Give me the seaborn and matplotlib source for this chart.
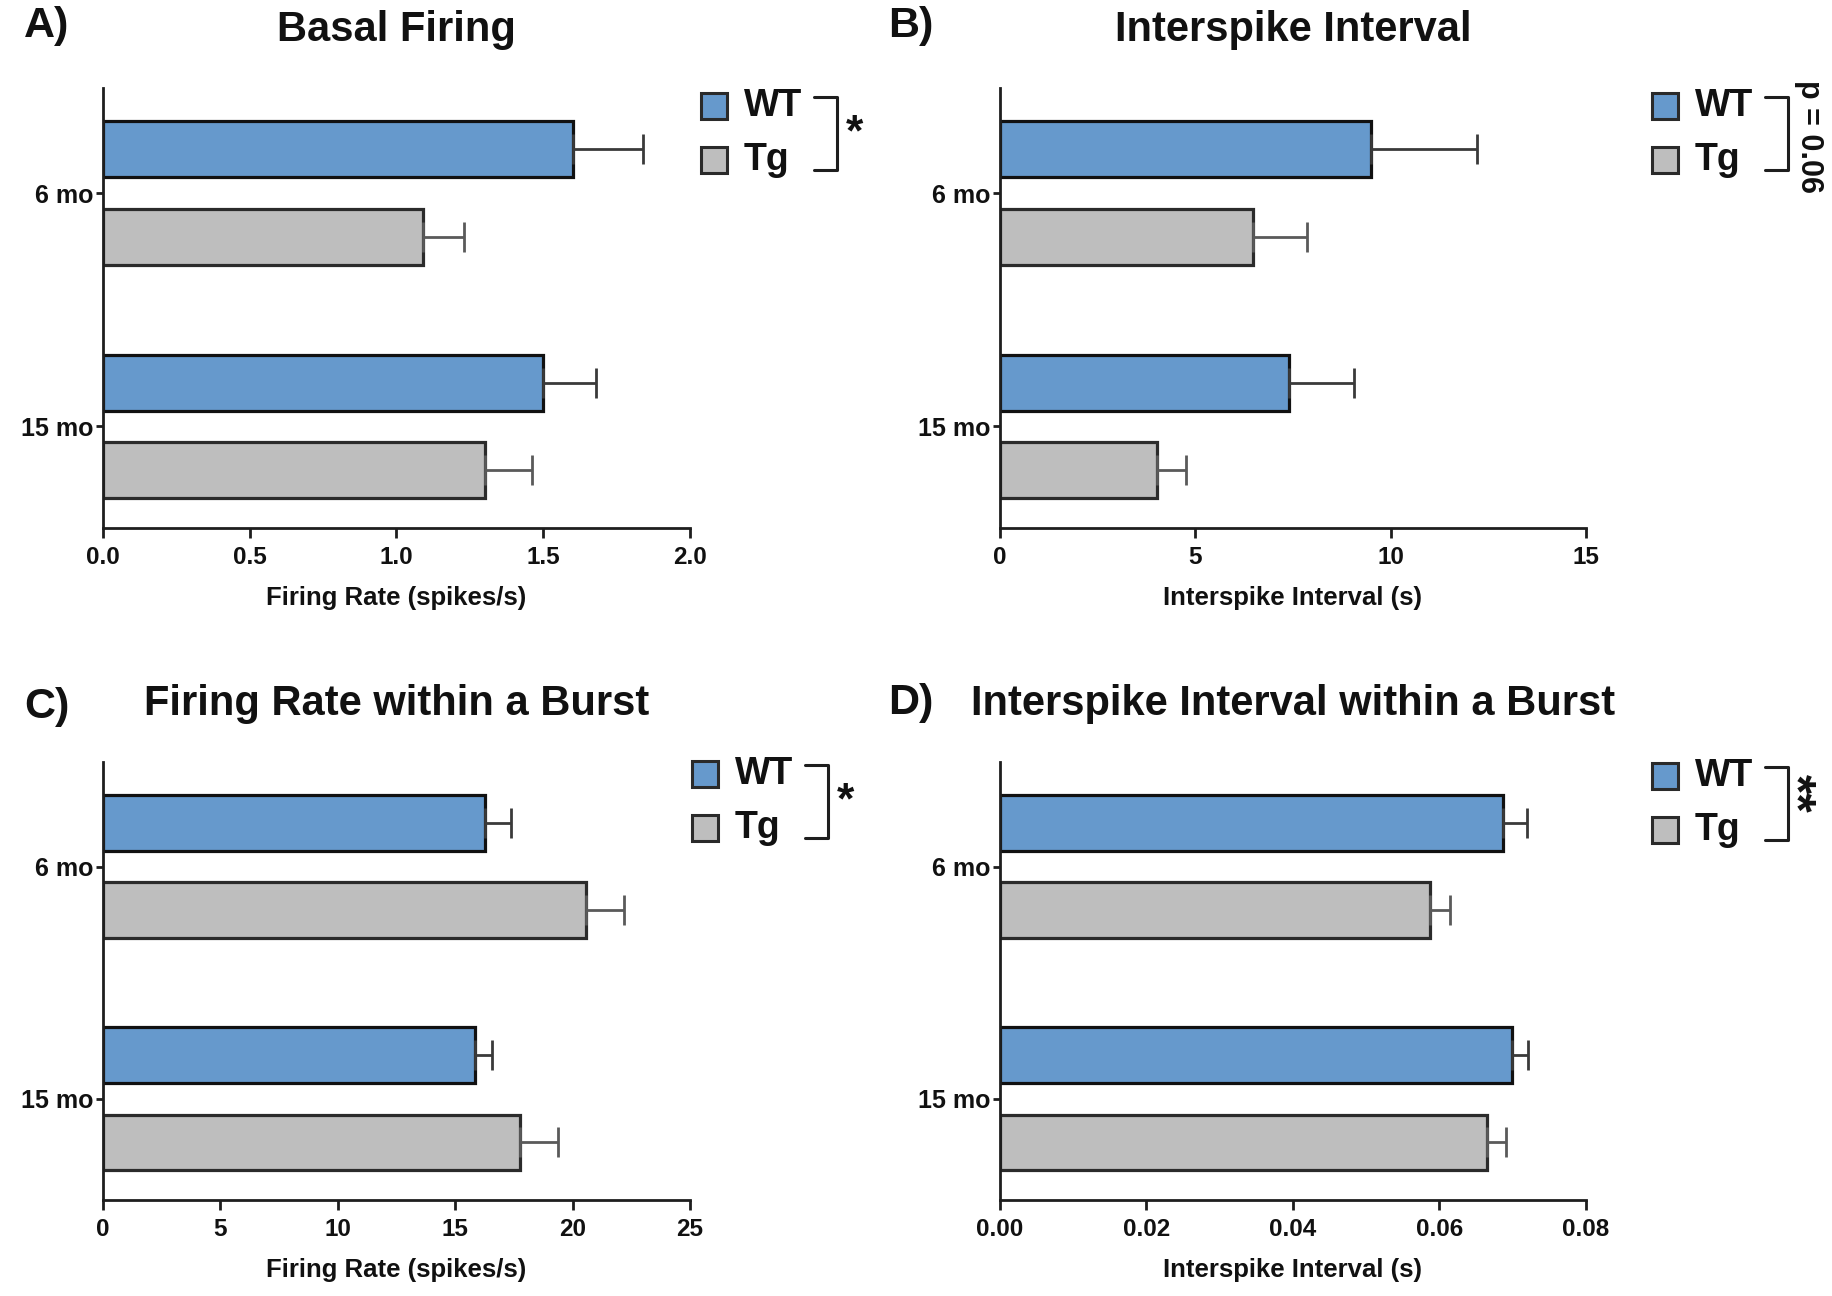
"""
Basal firing / burst firing comparison WT vs Tg at 6 and 15 months.
Horizontal bar charts (mean + SEM) in a 2x2 layout.
"""
import numpy as np
import pandas as pd
import matplotlib.pyplot as plt
import seaborn as sns
from matplotlib.patches import Rectangle
from matplotlib.lines import Line2D
from matplotlib.ticker import FormatStrFormatter

# ─────────────────────────────────────────────────────────────────
# DATA
# ─────────────────────────────────────────────────────────────────
ages = ["6 mo", "15 mo"]
genotypes = ["WT", "Tg"]

# order: WT 6 mo, WT 15 mo, Tg 6 mo, Tg 15 mo
basal_mean = [1.60, 1.50, 1.09, 1.30]
basal_sem = [0.24, 0.18, 0.14, 0.16]

isi_mean = [9.49, 7.40, 6.48, 4.01]
isi_sem = [2.73, 1.66, 1.38, 0.74]

burst_rate_mean = [16.25, 15.85, 20.57, 17.75]
burst_rate_sem = [1.12, 0.70, 1.60, 1.62]

burst_isi_mean = [0.0687, 0.0699, 0.0587, 0.0665]
burst_isi_sem = [0.0033, 0.0022, 0.0027, 0.0026]

panels = [
    dict(letter="A)", title="Basal Firing", mean=basal_mean, sem=basal_sem,
         xlabel="Firing Rate (spikes/s)", xticks=[0, 0.5, 1.0, 1.5, 2.0], fmt="%.1f",
         sig="*", sig_rot=0),
    dict(letter="B)", title="Interspike Interval", mean=isi_mean, sem=isi_sem,
         xlabel="Interspike Interval (s)", xticks=[0, 5, 10, 15], fmt="%d",
         sig="p = 0.06", sig_rot=270),
    dict(letter="C)", title="Firing Rate within a Burst", mean=burst_rate_mean,
         sem=burst_rate_sem, xlabel="Firing Rate (spikes/s)",
         xticks=[0, 5, 10, 15, 20, 25], fmt="%d", sig="*", sig_rot=0),
    dict(letter="D)", title="Interspike Interval within a Burst", mean=burst_isi_mean,
         sem=burst_isi_sem, xlabel="Interspike Interval (s)",
         xticks=[0, 0.02, 0.04, 0.06, 0.08], fmt="%.2f", sig="**", sig_rot=270),
]

COLORS = {"WT": "#6699CC", "Tg": "#BEBEBE"}
EDGES = {"WT": "#111111", "Tg": "#2b2b2b"}

# ─────────────────────────────────────────────────────────────────
# LAYOUT (pixel boxes of the four axes, figure is 1833 x 1296)
# ─────────────────────────────────────────────────────────────────
W, H = 1833, 1296
boxes = [(103, 88, 690, 528), (1000, 88, 1586, 528),
         (103, 762, 690, 1200), (1000, 762, 1586, 1200)]
legend_at = [(701, 106), (1652, 106), (692, 774), (1652, 776)]
letter_at = [(24, 26), (888, 26), (24, 707), (888, 703)]

sns.set_theme(style="ticks")
plt.rcParams["font.family"] = ["Liberation Sans", "DejaVu Sans"]
plt.rcParams["font.weight"] = "bold"
plt.rcParams["text.color"] = "#111111"
plt.rcParams["axes.labelcolor"] = "#111111"
plt.rcParams["xtick.color"] = "#111111"
plt.rcParams["ytick.color"] = "#111111"

fig = plt.figure(figsize=(W / 100, H / 100), dpi=100)


def fpx(x, y):
    return x / W, 1 - y / H


for i, p in enumerate(panels):
    x0, y0, x1, y1 = boxes[i]
    ax = fig.add_axes([x0 / W, 1 - y1 / H, (x1 - x0) / W, (y1 - y0) / H])

    df = pd.DataFrame({
        "age": ages * 2,
        "genotype": [g for g in genotypes for _ in ages],
        "value": p["mean"],
        "sem": p["sem"],
    })

    sns.barplot(data=df, y="age", x="value", hue="genotype", orient="h",
                order=ages, hue_order=genotypes, palette=COLORS, saturation=1,
                width=0.75, gap=0.36, errorbar=None, legend=False,
                linewidth=2.3, edgecolor="#111111", ax=ax)

    # one-sided SEM error bars, matched to each bar
    for patch in ax.patches:
        w = patch.get_width()
        k = int(np.argmin(np.abs(df["value"].values - w)))
        g = df["genotype"].iloc[k]
        patch.set_edgecolor(EDGES[g])
        yc = patch.get_y() + patch.get_height() / 2
        ax.errorbar(w, yc, xerr=[[0], [df["sem"].iloc[k]]], fmt="none",
                    ecolor="#3a3a3a" if g == "WT" else "#5a5a5a",
                    elinewidth=2.0, capsize=11, capthick=2.0, zorder=1)

    ax.set_xlim(p["xticks"][0], p["xticks"][-1])
    ax.set_ylim(1.435, -0.45)
    ax.set_xticks(p["xticks"])
    ax.xaxis.set_major_formatter(FormatStrFormatter(p["fmt"]))
    ax.set_xlabel(p["xlabel"], fontsize=18.5, fontweight="bold", labelpad=12)
    ax.set_ylabel("")
    ax.set_title(p["title"], fontsize=30, fontweight="bold", pad=34)

    sns.despine(ax=ax)
    for s in ["left", "bottom"]:
        ax.spines[s].set_linewidth(2.0)
        ax.spines[s].set_color("#1e1e1e")
    ax.tick_params(axis="x", length=7, width=2.0, color="#1e1e1e", labelsize=17.5, pad=6)
    ax.tick_params(axis="y", length=5, width=2.0, color="#1e1e1e", labelsize=18, pad=2)
    for lab in ax.get_xticklabels() + ax.get_yticklabels():
        lab.set_fontweight("bold")

    # panel letter
    lx, ly = letter_at[i]
    fig.text(*fpx(lx, ly), p["letter"], fontsize=31, fontweight="bold",
             ha="left", va="center")

    # legend with significance bracket
    sx, wy = legend_at[i]
    ty = wy + 54
    sq = 26
    for g, yy in zip(genotypes, [wy, ty]):
        fig.add_artist(Rectangle(fpx(sx, yy + sq / 2), sq / W, sq / H,
                                 transform=fig.transFigure, facecolor=COLORS[g],
                                 edgecolor="#2a2a2a", linewidth=2.2))
        fig.text(*fpx(sx + 43, yy), g, fontsize=27, fontweight="bold",
                 ha="left", va="center")
    bx0, bx1 = sx + 113, sx + 136
    btop, bbot = wy - 9, ty + 10
    xs = [bx0, bx1, bx1, bx0]
    ys = [btop, btop, bbot, bbot]
    fig.add_artist(Line2D([x / W for x in xs], [1 - y / H for y in ys],
                          transform=fig.transFigure, color="#1e1e1e", lw=2.2))
    mid = (btop + bbot) / 2
    if p["sig"] == "*":
        fig.text(*fpx(bx1 + 17, mid), p["sig"], fontsize=32, fontweight="bold",
                 ha="center", va="center")
    elif p["sig"] == "**":
        fig.text(*fpx(bx1 + 6, mid - 10), p["sig"], fontsize=36, fontweight="bold",
                 ha="center", va="center", rotation=270)
    else:
        fig.text(*fpx(bx1 + 21, mid + 3), p["sig"], fontsize=22, fontweight="bold",
                 ha="center", va="center", rotation=270)

plt.savefig("out.png", dpi=100)
plt.close()
